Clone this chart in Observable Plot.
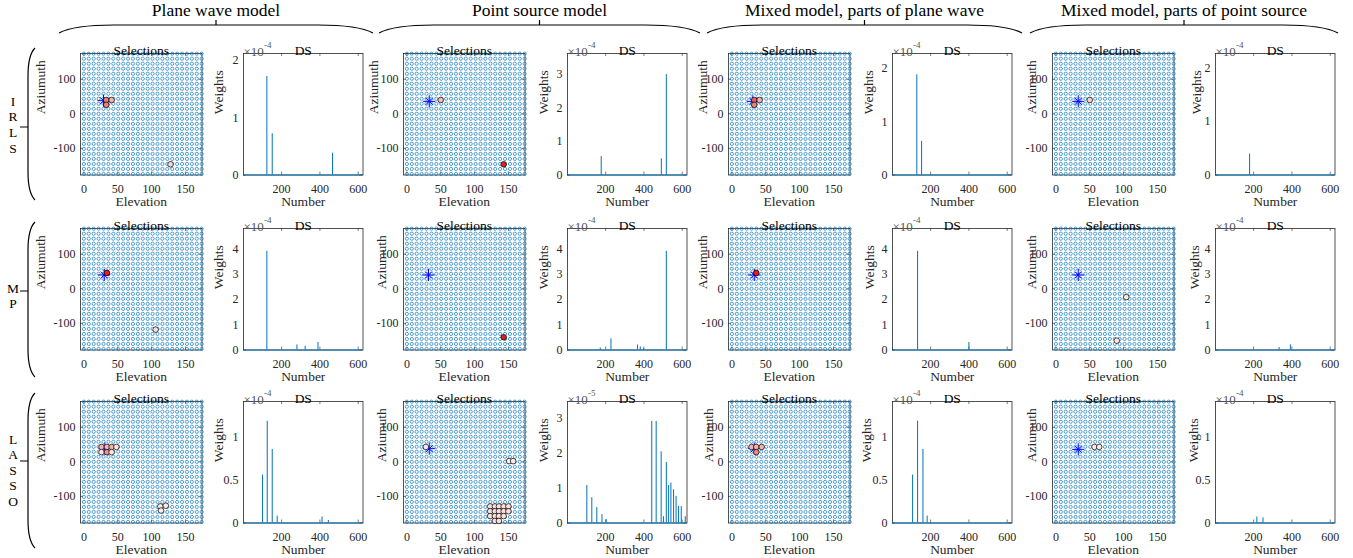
<!DOCTYPE html>
<html><head><meta charset="utf-8">
<script src="https://cdn.jsdelivr.net/npm/d3@7"></script>
<script src="https://cdn.jsdelivr.net/npm/@observablehq/plot@0.6"></script>
<style>
html,body{margin:0;padding:0;background:#fff;}
#chart{position:relative;width:1353px;height:558px;overflow:hidden;font-family:"Liberation Serif",serif;background:#fff;}
#chart svg{position:absolute;overflow:visible;font-family:"Liberation Serif",serif !important;}
#chart svg text{font-family:"Liberation Serif",serif !important;}
</style></head><body><div id="chart"></div>
<script>
// ---------------- DATA ----------------
const groupTitles = ["Plane wave model", "Point source model", "Mixed model, parts of plane wave", "Mixed model, parts of point source"];
const methodLetters = [["I","R","L","S"], ["M","P"], ["L","A","S","S","O"]];

// candidate grid (elevation x azimuth)
const elevationGrid = [0,7.25,14.5,21.75,29,36.25,43.5,50.75,58,65.25,72.5,79.75,87,94.25,101.5,108.75,116,123.25,130.5,137.75,145,152.25,159.5,166.75,174];
const azimuthGrid = [-174,-159.5,-145,-130.5,-116,-101.5,-87,-72.5,-58,-43.5,-29,-14.5,0,14.5,29,43.5,58,72.5,87,101.5,116,130.5,145,159.5,174];

const selTicksX = [0, 50, 100, 150];
const selTicksY = [-100, 0, 100];
const dsTicksX = [200, 400, 600];

// true source [elevation, azimuth] per panel (4 models)
const srcIRLS  = [[29,38],[33,36],[31,36],[33,36]];
const srcMP    = [[30,40],[32,40],[33,40],[33,40]];
const srcLASSO = [[31,38],[33,38],[33,38],[33,36]];

// selected points [elevation, azimuth, relative weight 0..1]
const selIRLS = [
  [[33,40,0.55],[41,40,0.3],[33,26,0.55],[128,-146,0.12]],
  [[50,40,0.25],[143,-146,1]],
  [[33,40,0.7],[41,40,0.3],[33,26,0.55]],
  [[50,40,0.15]]
];
const selMP = [
  [[34,46,1],[106,-118,0.08]],
  [[143,-140,1]],
  [[36,46,1]],
  [[104,-24,0.03],[90,-150,0.03]]
];
const selLASSO = [
  [[26,43,0.3],[34,43,0.3],[41,43,0.3],[48,43,0.05],[26,28,0.05],[34,28,0.45],[41,28,0.05],[113,-129,0.03],[121,-127,0.03],[114,-141,0.03]],
  [[28,43,0.03],[151,2,0.03],[157,2,0.03],
   [123,-129,0.08],[130,-129,0.08],[136,-129,0.08],[143,-129,0.08],[150,-129,0.08],
   [123,-143,0.08],[130,-143,0.08],[136,-143,0.08],[143,-143,0.08],[150,-143,0.08],
   [123,-157,0.08],[130,-157,0.08],[136,-157,0.08],[143,-157,0.08],
   [130,-171,0.08],[136,-171,0.08]],
  [[29,43,0.3],[36,43,0.3],[44,43,0.3],[36,28,0.5]],
  [[57,43,0.03],[64,43,0.03]]
];

// DS weights: non-zero entries [number, weight]
const peaksIRLS = [
  [[123,1.72e-4],[151,0.72e-4],[466,0.38e-4]],
  [[177,0.55e-4],[491,0.48e-4],[517,3.0e-4]],
  [[128,1.88e-4],[153,0.63e-4]],
  [[179,0.39e-4]]
];
const peaksMP = [
  [[123,3.9e-4],[280,0.2e-4],[323,0.15e-4],[390,0.3e-4]],
  [[172,0.08e-4],[228,0.44e-4],[367,0.2e-4],[381,0.12e-4],[398,0.05e-4],[517,3.9e-4]],
  [[132,3.9e-4],[400,0.3e-4]],
  [[333,0.1e-4],[392,0.2e-4]]
];
const peaksLASSO = [
  [[100,0.56e-4],[125,1.19e-4],[151,0.86e-4],[177,0.08e-4],[411,0.07e-4],[444,0.03e-4]],
  [[102,1.07e-5],[128,0.72e-5],[154,0.44e-5],[181,0.24e-5],[203,0.1e-5],[441,2.9e-5],[464,2.9e-5],[490,2.03e-5],[502,0.18e-5],[517,1.73e-5],[529,1.07e-5],[541,1.14e-5],[555,0.95e-5],[568,0.76e-5],[581,0.47e-5],[595,0.47e-5],[616,0.18e-5]],
  [[106,0.56e-4],[132,1.19e-4],[160,0.86e-4],[182,0.08e-4]],
  [[217,0.07e-4],[249,0.06e-4]]
];

// DS axis: exponent, upper limit (in displayed units), y tick labels
const expIRLS = [-4,-4,-4,-4], expMP = [-4,-4,-4,-4], expLASSO = [-4,-5,-4,-4];
const ymaxIRLS = [2.12,3.63,2.28,2.27], ymaxMP = [4.8,4.8,4.8,4.8], ymaxLASSO = [1.42,3.47,1.42,1.42];
const yticksIRLS = [[0,1,2],[0,1,2,3],[0,1,2],[0,1,2]];
const yticksMP = [[0,1,2,3,4],[0,1,2,3,4],[0,1,2,3,4],[0,1,2,3,4]];
const yticksLASSO = [[0,0.5,1],[0,1,2,3],[0,0.5,1],[0,0.5,1]];

// ---------------- LAYOUT ----------------
const chart = document.getElementById("chart");
const M = {top: 30, right: 14, bottom: 46, left: 52};
const selLeft = [80, 403.4, 728.3, 1052.3];
const dsLeft = [243.3, 567.3, 891.7, 1215.3];
const rowTop = [53.3, 227.7, 401.3];
const selW = 121.5, dsW = 119.5, boxH = 121.5;
const azGap = [[40,30,26,21],[40,22,26,21],[40,22,20,21]];
const wGap = [[24.5,23.5,23.5,18.5],[25,24,23,21],[25,24,26,21.5]];
const FONT = "Liberation Serif";
const AX = "#262626", BLUE = "#0072BD";

const rows = [
  {sel: selIRLS, src: srcIRLS, peaks: peaksIRLS, exp: expIRLS, ymax: ymaxIRLS, yt: yticksIRLS},
  {sel: selMP, src: srcMP, peaks: peaksMP, exp: expMP, ymax: ymaxMP, yt: yticksMP},
  {sel: selLASSO, src: srcLASSO, peaks: peaksLASSO, exp: expLASSO, ymax: ymaxLASSO, yt: yticksLASSO}
];

const gridPts = d3.cross(elevationGrid, azimuthGrid);
const baseStyle = `font-family: '${FONT}', serif; font-size: 12px; color: ${AX}; background: transparent; overflow: visible;`;

function boxTicks(xt, yt, w, h) {
  return [
    Plot.tickX(xt, {x: d => d, insetTop: h - 3, stroke: AX, strokeWidth: 0.6}),
    Plot.tickX(xt, {x: d => d, insetBottom: h - 3, stroke: AX, strokeWidth: 0.6}),
    Plot.tickY(yt, {y: d => d, insetRight: w - 3, stroke: AX, strokeWidth: 0.6}),
    Plot.tickY(yt, {y: d => d, insetLeft: w - 3, stroke: AX, strokeWidth: 0.6})
  ];
}

function place(svg, left, top) {
  svg.style.position = "absolute";
  svg.style.left = (left - M.left) + "px";
  svg.style.top = (top - M.top) + "px";
  svg.setAttribute("font-family", `${FONT}, serif`);
  chart.append(svg);
}

function selPlot(sel, src, gap) {
  return Plot.plot({
    width: M.left + selW + M.right, height: M.top + boxH + M.bottom,
    marginLeft: M.left, marginRight: M.right, marginTop: M.top, marginBottom: M.bottom,
    style: baseStyle,
    x: {domain: [-5, 174.5]},
    y: {domain: [-177, 174.5]},
    color: {type: "linear", domain: [0, 1], range: ["#fdf1ef", "#e3211c"], interpolate: "rgb"},
    marks: [
      Plot.frame({stroke: AX, strokeWidth: 0.8}),
      ...boxTicks(selTicksX, selTicksY, selW, boxH),
      Plot.dot(gridPts, {x: d => d[0], y: d => d[1], r: 1.6, stroke: BLUE, strokeWidth: 0.8, strokeOpacity: 0.85, fill: "none"}),
      Plot.dot([src], {x: d => d[0], y: d => d[1], symbol: "plus", r: 4, stroke: "#0000ff", fill: "none", strokeWidth: 1}),
      Plot.dot([src], {x: d => d[0], y: d => d[1], symbol: "times", r: 3.2, stroke: "#0000ff", fill: "none", strokeWidth: 1}),
      Plot.dot(sel, {x: d => d[0], y: d => d[1], r: 2.8, fill: d => d[2], stroke: "#000", strokeWidth: 0.7}),
      Plot.axisX({ticks: selTicksX, tickSize: 0, tickPadding: 9, fontSize: 12, label: null}),
      Plot.axisY({ticks: selTicksY, tickSize: 0, tickPadding: 5, fontSize: 12, label: null, tickFormat: d => String(d)}),
      Plot.text(["Selections"], {frameAnchor: "top", dy: -8.5, fontSize: 13.5, fill: "#000"}),
      Plot.text(["Elevation"], {frameAnchor: "bottom", dy: 31, fontSize: 13.5}),
      Plot.text(["Aziumuth"], {frameAnchor: "left", dx: -gap, rotate: -90, fontSize: 13.5})
    ]
  });
}

function dsPlot(peaks, exp, ymax, yt, gap) {
  const k = Math.pow(10, -exp);
  return Plot.plot({
    width: M.left + dsW + M.right, height: M.top + boxH + M.bottom,
    marginLeft: M.left, marginRight: M.right, marginTop: M.top, marginBottom: M.bottom,
    style: baseStyle,
    x: {domain: [1, 625]},
    y: {domain: [0, ymax], transform: v => v * k},
    marks: [
      Plot.frame({stroke: AX, strokeWidth: 0.8}),
      ...boxTicks(dsTicksX, yt, dsW, boxH),
      Plot.ruleY([0], {stroke: BLUE, strokeWidth: 1}),
      Plot.ruleX(peaks, {x: d => d[0], y1: 0, y2: d => d[1], stroke: BLUE, strokeWidth: 1}),
      Plot.axisX({ticks: dsTicksX, tickSize: 0, tickPadding: 9, fontSize: 12, label: null}),
      Plot.axisY({ticks: yt, tickSize: 0, tickPadding: 5, fontSize: 12, label: null, tickFormat: d => String(d)}),
      Plot.text(["DS"], {frameAnchor: "top", dy: -8.5, fontSize: 13.5, fill: "#000"}),
      Plot.text(["Number"], {frameAnchor: "bottom", dy: 31, fontSize: 13.5}),
      Plot.text(["Weights"], {frameAnchor: "left", dx: -gap, rotate: -90, fontSize: 13.5}),
      Plot.text(["\u00d710"], {frameAnchor: "top-left", textAnchor: "start", dy: -7, fontSize: 13, fill: "#555"}),
      Plot.text([String(exp)], {frameAnchor: "top-left", textAnchor: "start", dx: 20.5, dy: -11.5, fontSize: 9, fill: "#555"})
    ]
  });
}

rows.forEach((row, r) => {
  for (let c = 0; c < 4; c++) {
    place(selPlot(row.sel[c], row.src[c], azGap[r][c]), selLeft[c], rowTop[r]);
    place(dsPlot(row.peaks[c], row.exp[c], row.ymax[c], row.yt[c], wGap[r][c]), dsLeft[c], rowTop[r]);
  }
});

// ---------------- ANNOTATIONS (titles, braces, row labels) ----------------
const braceX = [[59,373],[379,700],[707,1022],[1030,1338]];
const rowBrace = [[48,200,127],[222,377,291],[393,548,461]];
const letterY = [[103,118,134,150],[290,305],[441,456,472,487,503]];

const ann = d3.create("svg").attr("width", 1353).attr("height", 558)
  .style("left", "0px").style("top", "0px").style("font-family", `'${FONT}', serif`);

braceX.forEach(([a, b], i) => {
  const m = (a + b) / 2;
  ann.append("path")
    .attr("d", `M${a},33 C${a + 12},26.5 ${a + 30},25 ${a + 55},25 L${b - 55},25 C${b - 30},25 ${b - 12},26.5 ${b},33 M${m},25 L${m},20`)
    .attr("fill", "none").attr("stroke", "#000").attr("stroke-width", 1.2);
  ann.append("text").attr("x", m).attr("y", 12).attr("text-anchor", "middle")
    .attr("dominant-baseline", "middle").attr("font-size", 17.5).attr("fill", "#000").text(groupTitles[i]);
});

rowBrace.forEach(([t, b, m], i) => {
  ann.append("path")
    .attr("d", `M35,${t} C30,${t + 5} 28,${t + 14} 28,${t + 28} L28,${b - 28} C28,${b - 14} 30,${b - 5} 35,${b} M28,${m} L20,${m}`)
    .attr("fill", "none").attr("stroke", "#000").attr("stroke-width", 1.2);
  methodLetters[i].forEach((ch, j) => {
    ann.append("text").attr("x", 13).attr("y", letterY[i][j]).attr("text-anchor", "middle")
      .attr("dominant-baseline", "middle").attr("font-size", 13.5).attr("fill", "#000").text(ch);
  });
});
chart.prepend(ann.node());
</script>
</body></html>
